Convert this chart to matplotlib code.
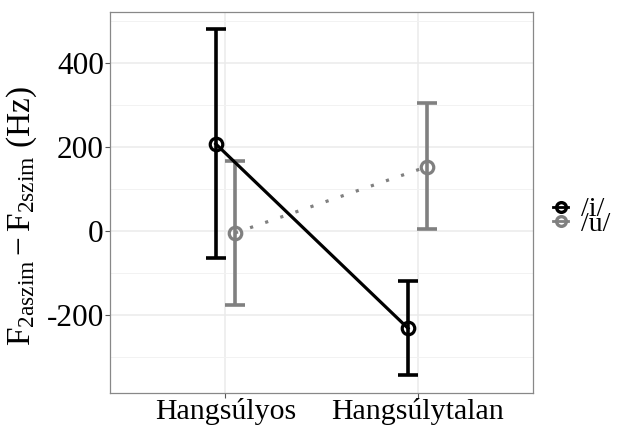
import matplotlib
matplotlib.use("Agg")
import matplotlib.pyplot as plt
from matplotlib.lines import Line2D
import numpy as np

categories = ["Hangsúlyos", "Hangsúlytalan"]
vowels = ["/i/", "/u/"]
means = {"/i/": [207, -232], "/u/": [-5, 153]}
upper = {"/i/": [481, -119], "/u/": [167, 305]}
lower = {"/i/": [-65, -343], "/u/": [-176, 4]}
colors = {"/i/": "#000000", "/u/": "#808080"}
linestyles = {"/i/": "-", "/u/": (0, (1, 4))}
dodge = {"/i/": -0.05, "/u/": 0.05}
yticks = [-200, 0, 200, 400]

plt.rcParams['font.family'] = ['Liberation Serif', 'DejaVu Serif']
plt.rcParams['mathtext.fontset'] = 'custom'
plt.rcParams['mathtext.rm'] = 'Liberation Serif'
plt.rcParams['mathtext.it'] = 'Liberation Serif:italic'

fig = plt.figure(figsize=(6.24, 4.26), dpi=100)
ax = fig.add_axes([110/624, 33/426, 423/624, 381/426])

xbase = np.arange(1, len(categories) + 1)
for v in vowels:
    x = xbase + dodge[v]
    m = np.array(means[v]); u = np.array(upper[v]); l = np.array(lower[v])
    ax.errorbar(x, m, yerr=[m - l, u - m], fmt='none', ecolor=colors[v],
                elinewidth=2.6, capsize=7.2, capthick=2.6, zorder=2)
    ln, = ax.plot(x, m, color=colors[v], lw=2.3, zorder=3)
    ln.set_linestyle(linestyles[v])
    ln.set_dash_capstyle('butt')
    ax.plot(x, m, 'o', mfc='none', mec=colors[v], ms=9, mew=2.3, zorder=4)

ax.set_xlim(0.4, 2.6)
ax.set_ylim(-386, 521)
ax.set_xticks(xbase)
ax.set_xticklabels(categories)
ax.set_yticks(yticks)
ax.set_yticklabels([str(t) for t in yticks])
ax.set_yticks(np.arange(-300, 501, 200), minor=True)
ax.grid(True, which='major', color='#EBEBEB', lw=1.1, zorder=0)
ax.grid(True, which='minor', axis='y', color='#F2F2F2', lw=0.7, zorder=0)
ax.set_axisbelow(True)
for s in ax.spines.values():
    s.set_color('#888888')
    s.set_linewidth(0.9)
ax.tick_params(axis='y', which='major', labelsize=22.5, length=3.5, width=0.8,
               color='#555555', pad=1)
ax.tick_params(axis='x', which='major', labelsize=21.5, length=3.5, width=0.8,
               color='#555555', pad=0)
ax.tick_params(axis='y', which='minor', length=0)
ax.set_ylabel(r'$\mathrm{F_{2aszim} - F_{2szim}}$ (Hz)', fontsize=24)
ax.yaxis.set_label_coords(-0.168, 0.465)

handles = [Line2D([0], [0], color=colors[v], lw=2, marker='o', mfc='none',
                  mec=colors[v], ms=7, mew=2.4) for v in vowels]
fig.legend(handles, vowels, loc='center left', bbox_to_anchor=(553/624, 1 - 217/426),
           frameon=False, fontsize=20, handlelength=0.55, handletextpad=0.45,
           labelspacing=-0.38, borderpad=0, borderaxespad=0)

fig.savefig("out.png", dpi=100)
